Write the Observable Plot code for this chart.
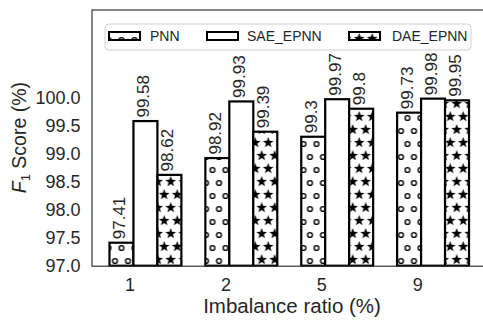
<!DOCTYPE html>
<html><head><meta charset="utf-8">
<script src="https://cdn.jsdelivr.net/npm/d3@7"></script>
<script src="https://cdn.jsdelivr.net/npm/@observablehq/plot@0.6"></script>
<style>
html,body{margin:0;padding:0;background:#fff;overflow:hidden;}
#defs{position:absolute;left:0;top:0;width:0;height:0;}
</style></head><body>
<svg id="defs" width="0" height="0"><defs id="patdefs"></defs></svg>
<div id="chart"></div>
<script>
// ---- data ----
const ratios = ["1", "2", "5", "9"];
const seriesNames = ["PNN", "SAE_EPNN", "DAE_EPNN"];
const pnn = [97.41, 98.92, 99.3, 99.73];
const sae = [99.58, 99.93, 99.97, 99.98];
const dae = [98.62, 99.39, 99.8, 99.95];
const yTicks = [97.0, 97.5, 98.0, 98.5, 99.0, 99.5, 100.0];

// ---- layout constants ----
const barW = 0.25, tickOffset = -0.04, yBase = 97;
const ink = "#262626";
const font = "'Liberation Sans', Arial, Helvetica, sans-serif";

// ---- patterns ----
const defs = d3.select("#patdefs");
const pO = defs.append("pattern").attr("id", "hatchO").attr("patternUnits", "userSpaceOnUse")
  .attr("width", 13).attr("height", 26).attr("x", 4.5).attr("y", 14);
pO.append("rect").attr("width", 13).attr("height", 26).attr("fill", "#fff");
[[0,0],[13,0],[6.5,13],[0,26],[13,26]].forEach(([cx,cy]) =>
  pO.append("circle").attr("cx", cx).attr("cy", cy).attr("r", 2.4)
    .attr("fill", "none").attr("stroke", "#000").attr("stroke-width", 1.4));
function starPath(cx, cy, R, r) {
  const pts = [];
  for (let k = 0; k < 10; k++) {
    const a = -Math.PI / 2 + k * Math.PI / 5, rad = k % 2 ? r : R;
    pts.push([cx + rad * Math.cos(a), cy + rad * Math.sin(a)]);
  }
  return "M" + pts.map(p => p.join(",")).join("L") + "Z";
}
const pS = defs.append("pattern").attr("id", "hatchStar").attr("patternUnits", "userSpaceOnUse")
  .attr("width", 13).attr("height", 26).attr("x", 1.7).attr("y", -1);
pS.append("rect").attr("width", 13).attr("height", 26).attr("fill", "#fff");
[[0,0],[13,0],[6.5,13],[0,26],[13,26]].forEach(([cx,cy]) =>
  pS.append("path").attr("d", starPath(cx, cy + 0.7, 5.6, 2.3)).attr("fill", "#000"));

const fills = ["url(#hatchO)", "#fff", "url(#hatchStar)"];
const valuesBySeries = [pnn, sae, dae];

// ---- table ----
const rows = [];
valuesBySeries.forEach((vals, k) => vals.forEach((v, i) => {
  const x1 = i + (k - 1) * barW;
  rows.push({series: seriesNames[k], k, ratio: ratios[i], value: v, x1, x2: x1 + barW, xc: x1 + barW / 2});
}));
const tickPos = ratios.map((r, i) => i + tickOffset);

const chart = Plot.plot({
  width: 483, height: 322,
  marginLeft: 91.5, marginRight: -4, marginTop: 9.5, marginBottom: 56.3,
  style: {fontFamily: font, fontSize: "18px", color: ink, background: "#fff", overflow: "hidden"},
  x: {domain: [-0.4375, 3.6875], ticks: tickPos, tickFormat: d => ratios[tickPos.indexOf(d)], tickSize: 0, tickPadding: 12, label: null},
  y: {domain: [yBase, 101.57], ticks: yTicks, tickFormat: d3.format(".1f"), tickSize: 0, tickPadding: 11.5, label: null},
  marks: [
    ...seriesNames.map((s, k) => Plot.rect(rows.filter(d => d.k === k), {
      x1: "x1", x2: "x2", y1: yBase, y2: "value",
      fill: fills[k], stroke: "#000", strokeWidth: 2.2
    })),
    Plot.text(rows, {x: "xc", y: "value", text: d => String(d.value), rotate: -90,
      textAnchor: "start", dy: -4, dx: -2, fontSize: 17, fill: ink}),
    Plot.frame({stroke: "#333", strokeWidth: 1.2})
  ]
});
document.getElementById("chart").appendChild(chart);

// ---- axis labels & legend (real text) ----
const svg = d3.select(chart);
svg.append("text").attr("x", 292).attr("y", 313).attr("text-anchor", "middle")
  .attr("font-size", 20.5).attr("fill", ink).attr("font-family", font).text("Imbalance ratio (%)");
const yl = svg.append("text").attr("transform", "translate(26,137.6) rotate(-90)")
  .attr("text-anchor", "middle").attr("font-size", 19.5).attr("fill", ink).attr("font-family", font);
yl.append("tspan").attr("font-style", "italic").text("F");
yl.append("tspan").attr("font-size", 13).attr("dy", 4).text("1");
yl.append("tspan").attr("dy", -4).text(" Score (%)");

const lg = svg.append("g").attr("font-family", font).attr("font-size", 14).attr("fill", ink)
  .attr("text-anchor", "start");
lg.append("rect").attr("x", 105).attr("y", 24).attr("width", 366).attr("height", 26).attr("rx", 4)
  .attr("fill", "#fff").attr("stroke", "#d0d0d0").attr("stroke-width", 1);
const legendPatchX = [109, 207, 349];
const legendTextX = [150, 247, 392];
seriesNames.forEach((s, k) => {
  lg.append("rect").attr("x", legendPatchX[k]).attr("y", 32).attr("width", 31).attr("height", 8)
    .attr("fill", fills[k]).attr("stroke", "#000").attr("stroke-width", 2);
  lg.append("text").attr("x", legendTextX[k]).attr("y", 41).attr("text-anchor", "start").text(s);
});
</script>
</body></html>
